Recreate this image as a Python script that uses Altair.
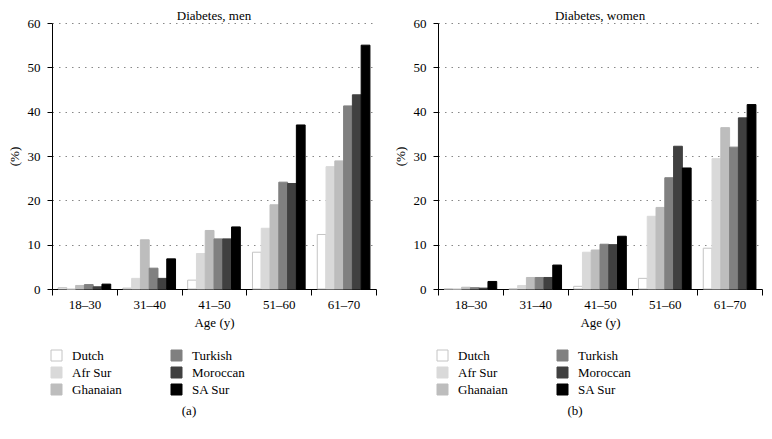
import altair as alt
import pandas as pd

ages = ["18–30", "31–40", "41–50", "51–60", "61–70"]
groups = ["Dutch", "Afr Sur", "Ghanaian", "Turkish", "Moroccan", "SA Sur"]
colors = ["#ffffff", "#d9d9d9", "#bdbdbd", "#808080", "#404040", "#000000"]
strokes = ["#c4c4c4", "#d9d9d9", "#bdbdbd", "#808080", "#404040", "#000000"]

men = {
    "Dutch":    [0.3, 0.2, 2.0, 8.3, 12.3],
    "Afr Sur":  [0.0, 2.4, 8.0, 13.7, 27.6],
    "Ghanaian": [0.8, 11.1, 13.2, 19.0, 28.9],
    "Turkish":  [1.0, 4.7, 11.3, 24.1, 41.3],
    "Moroccan": [0.5, 2.4, 11.3, 23.8, 43.8],
    "SA Sur":   [1.1, 6.8, 14.0, 37.0, 55.0],
}
women = {
    "Dutch":    [0.0, 0.0, 0.6, 2.4, 9.2],
    "Afr Sur":  [0.0, 0.8, 8.3, 16.4, 29.4],
    "Ghanaian": [0.4, 2.6, 8.8, 18.4, 36.4],
    "Turkish":  [0.3, 2.6, 10.1, 25.1, 32.0],
    "Moroccan": [0.2, 2.6, 10.0, 32.2, 38.6],
    "SA Sur":   [1.7, 5.4, 11.9, 27.3, 41.6],
}

FONT = "Liberation Serif"


def panel(data, title, tag):
    rows = []
    for g in groups:
        for a, v in zip(ages, data[g]):
            rows.append({"Age": a, "Group": g, "Value": v})
    df = pd.DataFrame(rows)
    bars = alt.Chart(df).mark_bar(strokeWidth=1).encode(
        x=alt.X("Age:N", sort=ages,
                scale=alt.Scale(paddingInner=0, paddingOuter=0),
                axis=alt.Axis(title="Age (y)", labelAngle=0, tickBand="extent",
                              domainColor="black", tickColor="black", tickSize=6,
                              labelFontSize=13, titleFontSize=13, labelPadding=3,
                              titlePadding=5, labelFont=FONT, titleFont=FONT,
                              titleFontWeight="normal", labelColor="black",
                              titleColor="black")),
        xOffset=alt.XOffset("Group:N", sort=groups,
                            scale=alt.Scale(paddingInner=0, paddingOuter=0.69)),
        y=alt.Y("Value:Q", scale=alt.Scale(domain=[0, 60], nice=False),
                axis=alt.Axis(title="(%)", values=[0, 10, 20, 30, 40, 50, 60],
                              grid=True, gridDash=[1.5, 5], gridColor="#888888",
                              gridWidth=1, domainColor="black", tickColor="black",
                              tickSize=5, labelPadding=7, labelFontSize=13,
                              titleFontSize=13, labelFont=FONT, titleFont=FONT,
                              titleFontWeight="normal", titlePadding=6,
                              labelColor="black", titleColor="black")),
        color=alt.Color("Group:N",
                        scale=alt.Scale(domain=groups, range=colors),
                        legend=alt.Legend(title=None, orient="none", legendX=-2,
                                          legendY=326, columns=2, columnPadding=47,
                                          rowPadding=2, symbolType="square",
                                          symbolSize=121, symbolStrokeColor="#c4c4c4",
                                          symbolStrokeWidth=1, symbolOpacity=1,
                                          labelFont=FONT, labelFontSize=13,
                                          labelColor="black", labelOffset=9)),
        stroke=alt.Stroke("Group:N",
                          scale=alt.Scale(domain=groups, range=strokes),
                          legend=None),
    )
    lab = alt.Chart(pd.DataFrame({"t": [tag]})).mark_text(
        font=FONT, fontSize=13, color="black"
    ).encode(x=alt.value(137), y=alt.value(388), text="t:N")
    return alt.layer(bars, lab).properties(
        width=324, height=266,
        title=alt.TitleParams(title, font=FONT, fontSize=13, fontWeight="normal",
                              color="black", offset=-6, frame="group"),
    )


chart = alt.hconcat(
    panel(men, "Diabetes, men", "(a)"),
    panel(women, "Diabetes, women", "(b)"),
    spacing=17,
).resolve_scale(color="independent", stroke="independent").configure_view(
    stroke=None
).properties(padding={"left": 0, "top": 2, "right": 0, "bottom": 0})

chart.save("out.html", embed_options={"renderer": "svg", "actions": False})
